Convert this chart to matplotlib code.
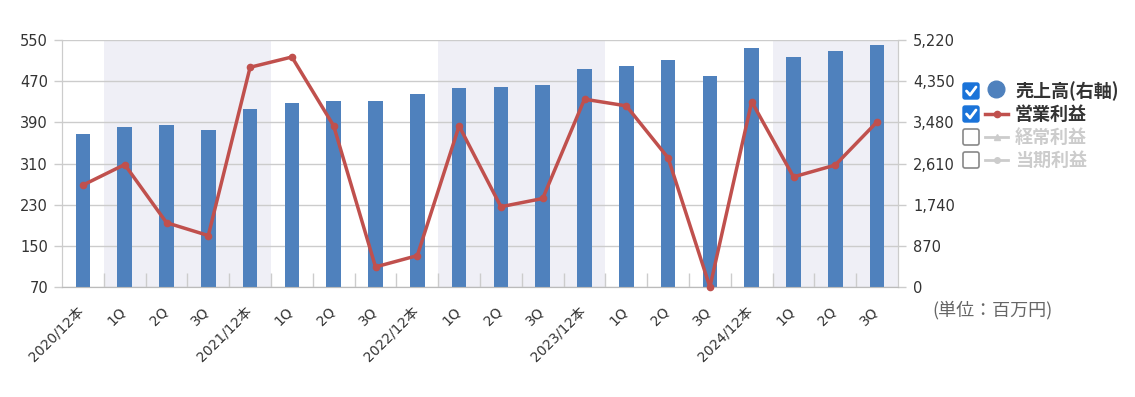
import matplotlib
matplotlib.use("Agg")
from matplotlib import pyplot as plt
from matplotlib.patches import FancyBboxPatch
from matplotlib.ticker import FuncFormatter
import matplotlib.transforms as mtransforms
import numpy as np

plt.rcParams['font.family'] = ['DejaVu Sans', 'Noto Sans CJK JP']

# data
periods = ['2020/12本', '1Q', '2Q', '3Q',
           '2021/12本', '1Q', '2Q', '3Q',
           '2022/12本', '1Q', '2Q', '3Q',
           '2023/12本', '1Q', '2Q', '3Q',
           '2024/12本', '1Q', '2Q', '3Q']
sales = [3227, 3388, 3417, 3325, 3769, 3895, 3924, 3924, 4079,
         4206, 4234, 4269, 4614, 4677, 4804, 4453, 5057, 4867, 4994, 5121]
op_profit = [268, 308, 195, 170, 497, 517, 383, 109, 131,
             383, 226, 242, 435, 422, 321, 70, 430, 284, 307, 391]
left_ticks = [70, 150, 230, 310, 390, 470, 550]
right_ticks = [0, 870, 1740, 2610, 3480, 4350, 5220]
shaded = [(1, 4), (9, 12), (17, 19)]
legend_items = ['売上高(右軸)', '営業利益', '経常利益', '当期利益']
legend_on = [True, True, False, False]
unit_label = '(単位：百万円)'

W, H = 1135, 397
bar_color = '#4F81BD'
line_color = '#C0504D'
grid_color = '#CCCCCC'
text_color = '#333333'

fig = plt.figure(figsize=(W / 100, H / 100), dpi=100)
ax = fig.add_axes([62 / W, 1 - 287 / H, (898 - 62) / W, 247 / H])
ax2 = ax.twinx()

x = np.arange(len(periods))

# right axis: bars, bands, grid
for a, b in shaded:
    ax2.axvspan(a - 0.5, b + 0.5, color='#EFEFF6', lw=0, zorder=0)
ax2.bar(x, sales, width=0.35, color=bar_color, zorder=3)
ax2.set_ylim(0, 5220)
ax2.set_yticks(right_ticks)
ax2.yaxis.set_major_formatter(FuncFormatter(lambda v, p: f'{int(v):,}'))
ax2.grid(axis='y', color=grid_color, lw=1, zorder=1)
ax2.set_axisbelow(True)
ax2.tick_params(axis='y', length=6, width=1, color=grid_color,
                labelcolor=text_color, labelsize=10.5, pad=5)

# left axis: operating profit line, on top
ax.set_zorder(ax2.get_zorder() + 1)
ax.patch.set_visible(False)
ax.plot(x, op_profit, color=line_color, lw=2.5, marker='o', ms=4.5, zorder=5,
        clip_on=False)
ax.set_ylim(70, 550)
ax.set_yticks(left_ticks)
ax.tick_params(axis='y', length=6, width=1, color=grid_color,
               labelcolor=text_color, labelsize=10.5, pad=4)

ax.set_xlim(-0.5, len(periods) - 0.5)
ax.set_xticks(x)
ax.set_xticks(np.arange(0.5, len(periods) - 1, 1), minor=True)
ax.tick_params(axis='x', which='major', length=0, pad=16, labelsize=10,
               labelcolor=text_color)
ax.tick_params(axis='x', which='minor', direction='in', length=10,
               width=1, color=grid_color)
ax.set_xticklabels(periods, rotation=45, ha='right', va='center',
                   rotation_mode='anchor')
shift = mtransforms.ScaledTranslation(-1 / 100, 0, fig.dpi_scale_trans)
for lab in ax.get_xticklabels():
    lab.set_transform(lab.get_transform() + shift)

for a in (ax, ax2):
    a.spines['top'].set_visible(False)
    a.spines['left'].set_color(grid_color)
    a.spines['right'].set_color(grid_color)
    a.spines['bottom'].set_color('#BBBBBB')

# overlay in pixel coordinates for the legend and unit text
ov = fig.add_axes([0, 0, 1, 1], zorder=10)
ov.set_xlim(0, W)
ov.set_ylim(H, 0)
ov.axis('off')

rows_y = [91, 114, 137, 160]
for i, (name, on) in enumerate(zip(legend_items, legend_on)):
    cy = rows_y[i]
    if on:
        box = FancyBboxPatch((963, cy - 8), 16, 16,
                             boxstyle='round,pad=0,rounding_size=2',
                             fc='#1A73D9', ec='#1A73D9', lw=1)
        ov.add_patch(box)
        ov.plot([966.5, 970, 976], [cy, cy + 4, cy - 4], color='white',
                lw=2, solid_capstyle='round')
    else:
        box = FancyBboxPatch((963, cy - 8), 16, 16,
                             boxstyle='round,pad=0,rounding_size=2',
                             fc='white', ec='#888888', lw=1.2)
        ov.add_patch(box)
    if i == 0:
        ov.plot([996], [cy - 2], marker='o', ms=12, color=bar_color)
    elif i == 1:
        ov.plot([985, 1008], [cy, cy], color=line_color, lw=2.5)
        ov.plot([996.5], [cy], marker='o', ms=4.5, color=line_color)
    else:
        ov.plot([985, 1008], [cy, cy], color='#CCCCCC', lw=2)
        ov.plot([996.5], [cy], marker='^' if i == 2 else 'o', ms=4,
                color='#CCCCCC')
    ov.text(1015, cy, name, fontsize=13, fontweight='bold',
            color=text_color if on else '#CCCCCC', va='center', ha='left',
            family=['Noto Sans CJK JP', 'DejaVu Sans'])

ov.text(932, 310, unit_label, fontsize=13, color='#666666', va='center',
        ha='left', family=['Noto Sans CJK JP', 'DejaVu Sans'])

fig.savefig('out.png', dpi=100)
